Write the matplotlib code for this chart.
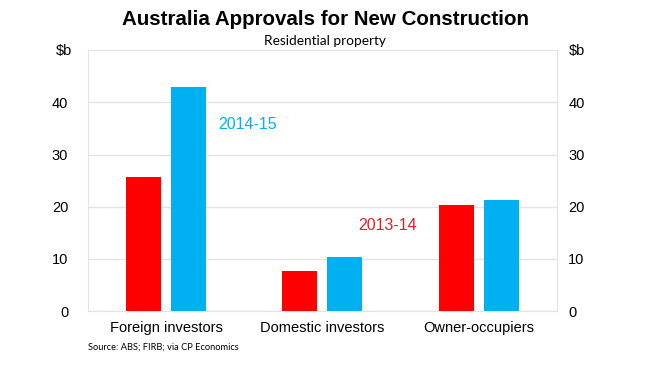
import numpy as np
import matplotlib
matplotlib.use("Agg")
import matplotlib.pyplot as plt

plt.rcParams['font.family'] = ['Liberation Sans', 'DejaVu Sans']

categories = ["Foreign investors", "Domestic investors", "Owner-occupiers"]
fy2013_14 = [25.7, 7.6, 20.4]
fy2014_15 = [43.0, 10.4, 21.3]
yticks = [0, 10, 20, 30, 40]

red = "#FF0000"
blue = "#00B0F0"
grid_col = "#E3E3E3"

fig = plt.figure(figsize=(6.5, 3.66), dpi=100)
ax = fig.add_axes([0.135, 0.150, 0.722, 0.713])

x = np.arange(len(categories))
w = 0.224
off = 0.144
ax.bar(x - off, fy2013_14, w, color=red, zorder=3)
ax.bar(x + off, fy2014_15, w, color=blue, zorder=3)

ax.set_xlim(-0.5, 2.5)
ax.set_ylim(0, 50)
ax.set_yticks(yticks)
ax.set_xticks(x)
ax.set_xticklabels(categories, fontsize=10.5)
ax.tick_params(axis='both', length=0, labelsize=10.5, colors='black')
ax.tick_params(axis='x', pad=7)
ax.tick_params(axis='y', pad=14)
ax.yaxis.grid(True, color=grid_col, linewidth=1, zorder=0)
for s in ax.spines.values():
    s.set_color(grid_col)

ax2 = ax.twinx()
ax2.set_ylim(0, 50)
ax2.set_yticks(yticks)
ax2.tick_params(axis='y', length=0, labelsize=10.5, pad=8)
for s in ax2.spines.values():
    s.set_visible(False)

fig.text(0.5, 0.948, "Australia Approvals for New Construction", ha='center', va='center',
         fontsize=14.8, fontweight='bold')
fig.text(0.5, 0.888, "Residential property", ha='center', va='center', fontsize=9.8,
         family=['Lato', 'DejaVu Sans'])
fig.text(0.098, 0.862, "$b", ha='center', va='center', fontsize=10.5)
fig.text(0.888, 0.862, "$b", ha='center', va='center', fontsize=10.5)

ax.text(0.332, 35.8, "2014-15", color=blue, fontsize=11.5, va='center')
ax.text(1.227, 16.4, "2013-14", color="#E0202C", fontsize=11.5, va='center')

fig.text(0.135, 0.052, "Source: ABS; FIRB; via CP Economics", fontsize=6.7,
         family=['Lato', 'DejaVu Sans'], va='center')

fig.savefig("out.png", dpi=100)
